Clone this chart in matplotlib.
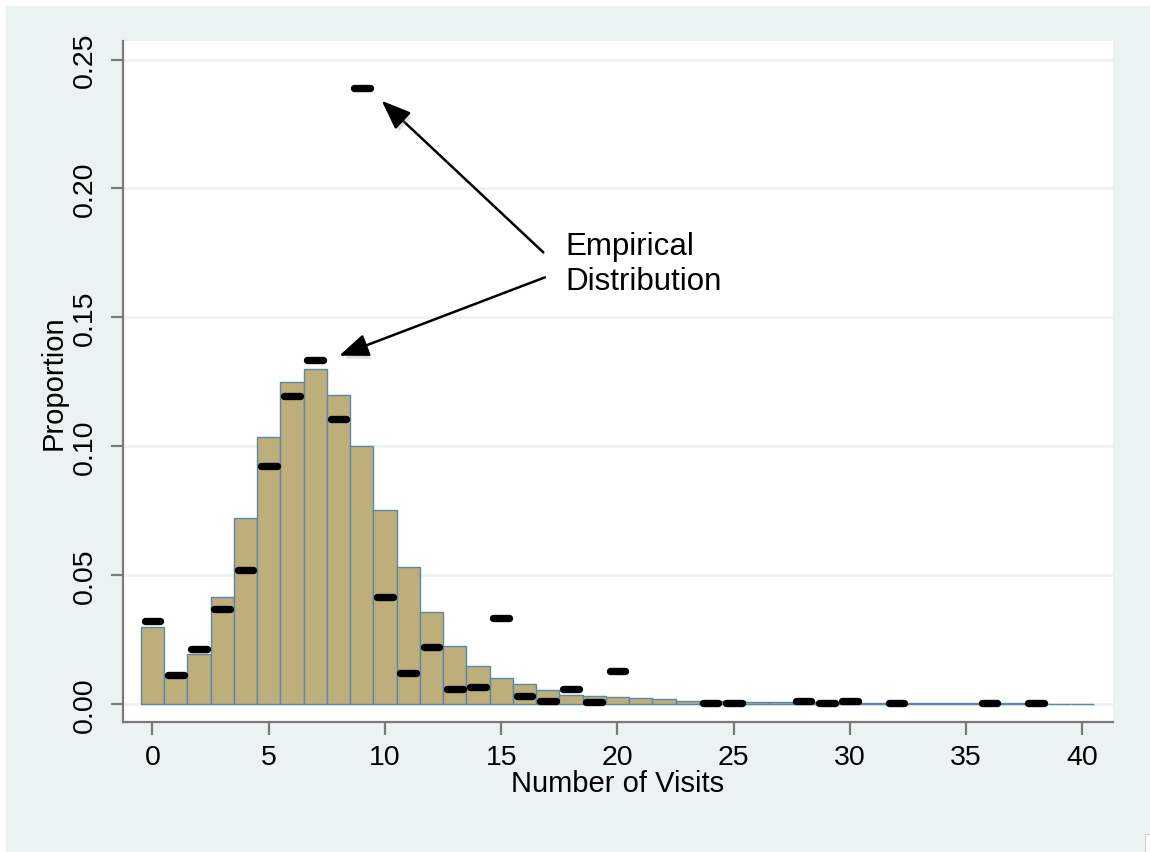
import numpy as np
import matplotlib
matplotlib.use("Agg")
import matplotlib.pyplot as plt
from matplotlib.patches import Rectangle
import matplotlib.patheffects as pe

plt.rcParams['font.family'] = ['Liberation Sans', 'DejaVu Sans']

# fitted model (bars), one per visit count
visits = np.arange(0, 41)
model = [0.030, 0.0105, 0.0194, 0.0416, 0.0721, 0.1037, 0.125, 0.130, 0.120,
         0.0999, 0.0752, 0.053, 0.0358, 0.0226, 0.0147, 0.0101, 0.0076,
         0.0054, 0.0035, 0.0030, 0.0026, 0.0022, 0.0021, 0.0013, 0.0012,
         0.0010, 0.0009, 0.0008, 0.0007, 0.0006, 0.0005, 0.0004, 0.0004,
         0.0003, 0.0003, 0.0002, 0.0002, 0.0002, 0.0001, 0.0001, 0.0001]

# empirical distribution (black dashes)
emp_x = np.array([0, 1, 2, 3, 4, 5, 6, 7, 8, 9, 10, 11, 12, 13, 14, 15, 16,
                  17, 18, 19, 20, 24, 25, 28, 29, 30, 32, 36, 38])
emp_y = np.array([0.0323, 0.0114, 0.0214, 0.037, 0.0518, 0.0923, 0.1194,
                  0.1334, 0.1106, 0.239, 0.0416, 0.0119, 0.0221, 0.0059,
                  0.0066, 0.0335, 0.0032, 0.0013, 0.0058, 0.0006, 0.0127,
                  0.0005, 0.0005, 0.0012, 0.0005, 0.0012, 0.0005, 0.0005,
                  0.0005])

xticks = [0, 5, 10, 15, 20, 25, 30, 35, 40]
yticks = [0.00, 0.05, 0.10, 0.15, 0.20, 0.25]

BG = '#eaf2f2'
W, H = 1150, 853

fig = plt.figure(figsize=(W / 100, H / 100), dpi=100, facecolor='white')
# stata-like graph region
fig.patches.append(Rectangle((6 / W, 0), 1, 1 - 7 / H, transform=fig.transFigure,
                             facecolor=BG, edgecolor='none', zorder=-10))
fig.patches.append(Rectangle((1145 / W, 0), 1, 18 / H, transform=fig.transFigure,
                             facecolor='white', edgecolor='#d0d0d0', lw=0.8, zorder=-9))

ax = fig.add_axes([122.7 / W, 1 - 722.7 / H, (1112.7 - 122.7) / W, (722.7 - 41.7) / H])
ax.set_facecolor('white')

ax.bar(visits, model, width=1.0, color='#bdae7a', edgecolor='#5b87aa',
       linewidth=1.0, zorder=2)
ax.hlines(emp_y, emp_x - 0.34, emp_x + 0.34, colors='black', linewidth=5.3,
          capstyle='round', zorder=3)

ax.set_xlim(-1.28, 41.30)
ax.set_ylim(-0.00687, 0.2573)
ax.set_xticks(xticks)
ax.set_yticks(yticks)
ax.set_xticklabels([str(t) for t in xticks])
ax.set_yticklabels(['%.2f' % t for t in yticks], rotation=90, va='center')
ax.grid(axis='y', color='#eef3f3', linewidth=2.2, zorder=0)
ax.set_axisbelow(True)

for side in ['top', 'right']:
    ax.spines[side].set_visible(False)
for side in ['left', 'bottom']:
    ax.spines[side].set_color('#7a7a7a')
    ax.spines[side].set_linewidth(1.6)
ax.tick_params(axis='both', direction='out', length=9, width=1.6,
               color='#7a7a7a', labelsize=20.5, labelcolor='black')
ax.tick_params(axis='x', pad=7)
ax.tick_params(axis='y', pad=9)

ax.set_xlabel('Number of Visits', fontsize=21, labelpad=-1)
ax.set_ylabel('Proportion', fontsize=21, labelpad=3)

shadow = [pe.SimplePatchShadow(offset=(2, -3), shadow_rgbFace='#999999', alpha=0.3),
          pe.Normal()]
aprops = dict(arrowstyle='-|>,head_length=18,head_width=7', mutation_scale=1,
              color='black', lw=1.8, shrinkA=0, shrinkB=0, path_effects=shadow)
ax.annotate('', xy=(9.86, 0.234), xytext=(16.81, 0.1752), arrowprops=aprops)
ax.annotate('', xy=(8.03, 0.1351), xytext=(16.88, 0.1655), arrowprops=aprops)
ax.text(17.74, 0.1835, 'Empirical\nDistribution', fontsize=22.5, ha='left',
        va='top', linespacing=1.2)

fig.savefig('out.png', dpi=100, facecolor=fig.get_facecolor())
